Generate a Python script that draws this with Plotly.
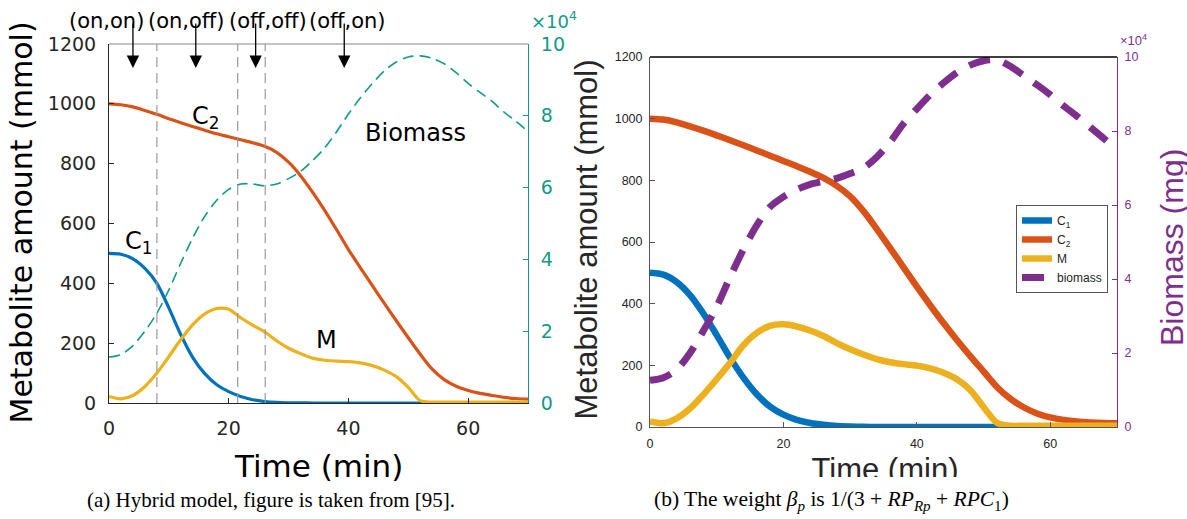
import plotly.graph_objects as go

W, H = 1187, 519

# time grid (min)
t = list(range(0, 72, 2))

# ---- panel (a): hybrid model ----
hyb_c1 = [500, 497, 482, 450, 400, 318, 228, 152, 98, 61, 38, 22, 11, 5, 2, 0.8, 0.3, 0,
          0, 0, 0, 0, 0, 0, 0, 0, 0, 0, 0, 0, 0, 0, 0, 0, 0, 0]
hyb_c2 = [1000, 997, 990, 978, 965, 950, 937, 924, 912, 900, 890, 880, 870, 858, 838, 805,
          760, 705, 645, 580, 513, 452, 392, 333, 275, 218, 163, 113, 78, 56, 42, 32, 25, 19, 15, 13]
hyb_m = [22, 14, 25, 55, 100, 155, 212, 262, 298, 316, 313, 285, 260, 238, 208, 183, 165, 150,
         143, 140, 138, 134, 125, 110, 88, 52, 8, 3, 3, 3, 3, 3, 3, 3, 3, 3]
hyb_bio = [1.28, 1.35, 1.6, 2.0, 2.5, 3.15, 3.9, 4.6, 5.2, 5.65, 5.95, 6.1, 6.1, 6.05, 6.1,
           6.25, 6.45, 6.75, 7.1, 7.55, 8.05, 8.5, 8.9, 9.25, 9.5, 9.64, 9.67, 9.6, 9.45, 9.2,
           8.9, 8.65, 8.4, 8.1, 7.85, 7.56]  # x 10^4

switch_t = [8.0, 21.5, 26.1]
phase_labels = ["(on,on)", "(on,off)", "(off,off)", "(off,on)"]
phase_label_t = [-0.35, 13.0, 26.5, 39.8]
arrow_t = [4.0, 14.5, 24.5, 39.3]

# ---- panel (b): weight beta_p ----
wt_c1 = [500, 494, 470, 428, 368, 298, 225, 160, 106, 66, 40, 23, 13, 7, 3, 1.5, 0.6, 0.2,
         0, 0, 0, 0, 0, 0, 0, 0, 0, 0, 0, 0, 0, 0, 0, 0, 0, 0]
wt_c2 = [1000, 997, 988, 975, 961, 946, 930, 914, 897, 880, 863, 846, 828, 808, 782, 748,
         700, 642, 580, 518, 455, 395, 337, 282, 230, 180, 130, 92, 64, 44, 31, 23, 18, 15, 13, 12]
wt_m = [18, 12, 28, 60, 105, 155, 208, 265, 305, 328, 333, 326, 313, 295, 272, 252, 235, 220,
        210, 204, 199, 190, 176, 155, 120, 65, 14, 4, 4, 4, 4, 4, 4, 4, 4, 4]
wt_bio = [1.26, 1.33, 1.55, 2.0, 2.6, 3.25, 4.05, 4.8, 5.45, 5.95, 6.22, 6.42, 6.56, 6.64,
          6.72, 6.85, 7.0, 7.3, 7.7, 8.2, 8.6, 8.98, 9.3, 9.58, 9.78, 9.9, 9.92, 9.75, 9.5,
          9.25, 8.98, 8.68, 8.4, 8.1, 7.8, 7.48]  # x 10^4

metab_ticks = [0, 200, 400, 600, 800, 1000, 1200]
bio_ticks = [0, 2, 4, 6, 8, 10]
time_ticks = [0, 20, 40, 60]

BLUE, ORANGE, YELLOW = "#0072BD", "#D95319", "#EDB120"
TEAL, PURPLE = "#119b84", "#7E2F8E"
DARK = "#262626"
SANS_A = "DejaVu Sans"
SANS_B = "Liberation Sans"
SERIF = "Liberation Serif"


def px(x):
    return x / W


def py(y):
    return 1 - y / H


fig = go.Figure()

# panel (a) curves
for vals, col in [(hyb_c1, BLUE), (hyb_c2, ORANGE), (hyb_m, YELLOW)]:
    fig.add_trace(go.Scatter(x=t, y=vals, mode="lines", xaxis="x", yaxis="y",
                             line=dict(color=col, width=3.2, shape="spline", smoothing=0.8),
                             showlegend=False, hoverinfo="skip"))
fig.add_trace(go.Scatter(x=t, y=hyb_bio, mode="lines", xaxis="x", yaxis="y2",
                         line=dict(color=TEAL, width=1.6, dash="11px,6px",
                                   shape="spline", smoothing=0.8),
                         showlegend=False, hoverinfo="skip"))

# panel (b) curves
for vals, col, name in [(wt_c1, BLUE, "C<sub>1</sub>"), (wt_c2, ORANGE, "C<sub>2</sub>"),
                        (wt_m, YELLOW, "M")]:
    fig.add_trace(go.Scatter(x=t, y=vals, mode="lines", xaxis="x2", yaxis="y3", name=name,
                             line=dict(color=col, width=6.5, shape="spline", smoothing=0.8),
                             hoverinfo="skip"))
fig.add_trace(go.Scatter(x=t, y=wt_bio, mode="lines", xaxis="x2", yaxis="y4", name="biomass",
                         line=dict(color=PURPLE, width=7, dash="22px,14px",
                                   shape="spline", smoothing=0.8),
                         hoverinfo="skip"))

# x label of panel (b), clipped at the lower edge of its strip
fig.add_trace(go.Scatter(x=[0.5], y=[0.54], mode="text", text=["Time (min)"],
                         textposition="bottom center", xaxis="x3", yaxis="y5",
                         textfont=dict(family=SANS_B, size=31, color=DARK),
                         cliponaxis=True, showlegend=False, hoverinfo="skip"))

axA = dict(showgrid=False, zeroline=False, showline=True, ticks="inside", ticklen=5,
           automargin=False)

layout = dict(
    width=W, height=H, margin=dict(l=0, r=0, t=0, b=0, autoexpand=False),
    paper_bgcolor="white", plot_bgcolor="white",
    xaxis=dict(**axA, domain=[px(109), px(528)], range=[0, 70], tickvals=time_ticks,
               anchor="y", linecolor=DARK, tickcolor=DARK, ticklabelstandoff=8,
               tickfont=dict(family=SANS_A, size=19, color=DARK)),
    yaxis=dict(**axA, domain=[py(403), py(44)], range=[0, 1200], tickvals=metab_ticks,
               anchor="x", linecolor=DARK, tickcolor=DARK, ticklabelstandoff=8,
               tickfont=dict(family=SANS_A, size=19, color=DARK)),
    yaxis2=dict(**axA, overlaying="y", side="right", anchor="x", range=[0, 10],
                tickvals=bio_ticks, linecolor=TEAL, tickcolor=TEAL, ticklabelstandoff=8,
                tickfont=dict(family=SANS_A, size=19, color=TEAL)),
    xaxis2=dict(**axA, domain=[px(650), px(1117)], range=[0, 70], tickvals=time_ticks,
                anchor="y3", linecolor="#555555", tickcolor="#555555", ticklabelstandoff=5,
                tickfont=dict(family=SANS_B, size=12.5, color=DARK)),
    yaxis3=dict(**axA, domain=[py(427), py(57)], range=[0, 1200], tickvals=metab_ticks,
                anchor="x2", linecolor="#555555", tickcolor="#555555", ticklabelstandoff=4,
                tickfont=dict(family=SANS_B, size=12.5, color=DARK)),
    yaxis4=dict(**axA, overlaying="y3", side="right", anchor="x2", range=[0, 10],
                tickvals=bio_ticks, linecolor=PURPLE, tickcolor=PURPLE, ticklabelstandoff=4,
                tickfont=dict(family=SANS_B, size=12.5, color=PURPLE)),
    xaxis3=dict(domain=[px(700), px(1070)], range=[0, 1], visible=False, anchor="y5"),
    yaxis5=dict(domain=[py(477), py(440)], range=[0, 1], visible=False, anchor="x3"),
    showlegend=True,
    legend=dict(x=px(1016), y=py(205), xanchor="left", yanchor="top", bgcolor="white",
                bordercolor="#555555", borderwidth=1, tracegroupgap=0, itemwidth=30,
                font=dict(family=SANS_B, size=12, color=DARK)),
)

shapes = []
# box tops
shapes.append(dict(type="line", xref="paper", yref="paper", x0=px(109), x1=px(528),
                   y0=py(44), y1=py(44), line=dict(color="#888888", width=1)))
shapes.append(dict(type="line", xref="paper", yref="paper", x0=px(650), x1=px(1117),
                   y0=py(57), y1=py(57), line=dict(color="black", width=1.3)))
# switching times
for s in switch_t:
    shapes.append(dict(type="line", xref="x", yref="y", x0=s, x1=s, y0=0, y1=1200,
                       line=dict(color="#9a9a9a", width=1.2, dash="10px,6px")))
layout["shapes"] = shapes

ann = []
x0_px, x1_px = 109, 528
for lab, lt in zip(phase_labels, phase_label_t):
    ann.append(dict(text=lab, x=px(x0_px + (x1_px - x0_px) * lt / 70), y=py(21),
                    xref="paper", yref="paper", showarrow=False,
                    xanchor="center", yanchor="middle",
                    font=dict(family=SANS_A, size=21, color="black")))
for at in arrow_t:
    ann.append(dict(text="", x=at, y=1120, xref="x", yref="y", showarrow=True,
                    ax=0, ay=-46, arrowhead=2, arrowsize=1.9, arrowwidth=1.3,
                    arrowcolor="black"))
# curve labels panel (a)
for txt, xx, yy in [("C<sub>1</sub>", 5.0, 535), ("C<sub>2</sub>", 16.2, 953),
                    ("M", 36.3, 211), ("Biomass", 51.2, 903)]:
    ann.append(dict(text=txt, x=xx, y=yy, xref="x", yref="y", showarrow=False,
                    font=dict(family=SANS_A, size=24, color="black")))
# exponent labels
ann.append(dict(text="×10<sup>4</sup>", x=px(529), y=py(34), xref="paper", yref="paper",
                xanchor="left", yanchor="bottom", showarrow=False,
                font=dict(family=SANS_A, size=18, color=TEAL)))
ann.append(dict(text="×10<sup>4</sup>", x=px(1118), y=py(50), xref="paper", yref="paper",
                xanchor="left", yanchor="bottom", showarrow=False,
                font=dict(family=SANS_B, size=13, color=PURPLE)))
# axis titles
ann.append(dict(text="Metabolite amount (mmol)", x=px(1), y=py(223), xref="paper",
                yref="paper", xanchor="left", yanchor="middle", textangle=-90,
                showarrow=False, font=dict(family=SANS_A, size=30, color="black")))
ann.append(dict(text="Time (min)", x=px(318), y=py(446), xref="paper", yref="paper",
                xanchor="center", yanchor="top", showarrow=False,
                font=dict(family=SANS_A, size=31, color="black")))
ann.append(dict(text="Metabolite amount (mmol)", x=px(566), y=py(240), xref="paper",
                yref="paper", xanchor="left", yanchor="middle", textangle=-90,
                showarrow=False, font=dict(family=SANS_B, size=31, color=DARK)))
ann.append(dict(text="Biomass (mg)", x=px(1152), y=py(248), xref="paper", yref="paper",
                xanchor="left", yanchor="middle", textangle=-90, showarrow=False,
                font=dict(family=SANS_B, size=32, color=PURPLE)))
# captions
ann.append(dict(text="(a) Hybrid model, figure is taken from [95].", x=px(271), y=py(500),
                xref="paper", yref="paper", xanchor="center", yanchor="middle",
                showarrow=False, font=dict(family=SERIF, size=21, color="black")))
ann.append(dict(text="(b) The weight <i>β<sub>p</sub></i> is 1/(3 + <i>RP<sub>Rp</sub></i>"
                     " + <i>RPC</i><sub>1</sub>)",
                x=px(831), y=py(500), xref="paper", yref="paper", xanchor="center",
                yanchor="middle", showarrow=False,
                font=dict(family=SERIF, size=21.5, color="black")))
layout["annotations"] = ann

fig.update_layout(layout)
fig.write_html("out.html",
               post_script="document.body.style.margin='0';"
                           "document.body.style.overflow='hidden';")
